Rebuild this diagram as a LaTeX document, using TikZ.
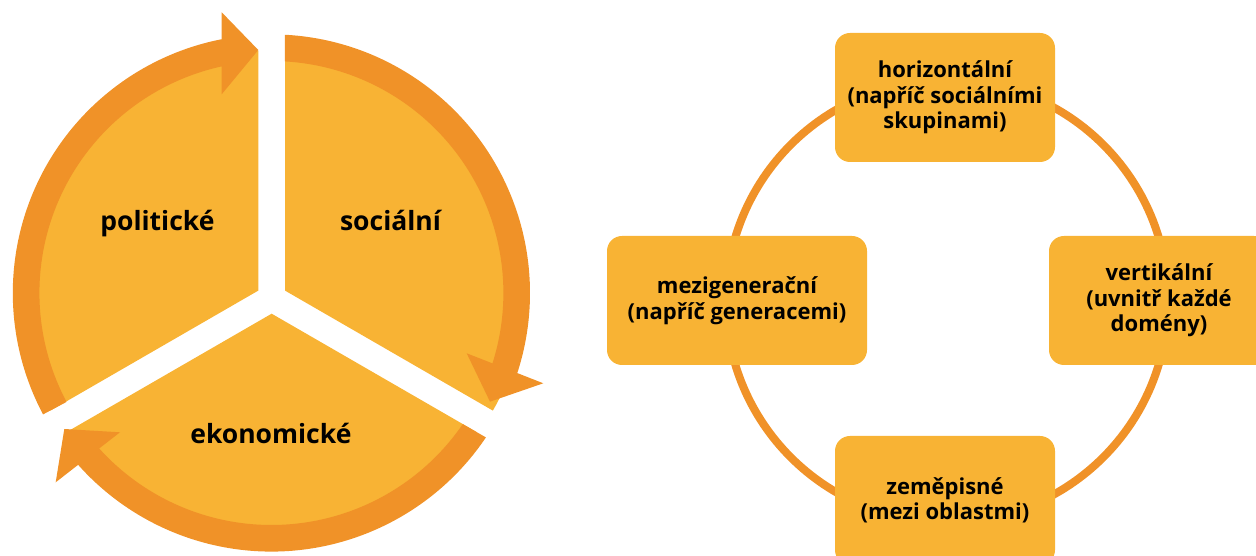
\documentclass[tikz,border=0pt]{standalone}
\usepackage{fontspec}
\setmainfont{Open Sans}
\definecolor{lightor}{HTML}{F8B334}
\definecolor{darkor}{HTML}{F09228}
\begin{document}
\begin{tikzpicture}[x=1pt,y=1pt,
  wedge/.style={fill=lightor},
  cyclearrow/.style={fill=darkor},
  seglabel/.style={font=\fontsize{26.5}{30}\selectfont\bfseries, anchor=base, inner sep=0pt},
  box/.style={fill=lightor, rounded corners=15pt, minimum height=129pt, inner sep=0pt, align=center,
    font=\fontsize{22}{25.5}\selectfont\bfseries},
  ring/.style={draw=darkor, line width=8pt}]
\useasboundingbox (0,0) rectangle (1256,556);
\clip (0,0) rectangle (1256,556);
% ---------- left: segmented cycle ----------
\begin{scope}[shift={(271.4,263)}]
  % pie wedges
  \fill[wedge] (-13.1,2.4) -- ++(90:240) arc[start angle=90,end angle=210,radius=240] -- cycle;
  \fill[wedge] (13.6,2.4) -- ++(-30:240) arc[start angle=-30,end angle=90,radius=240] -- cycle;
  \fill[wedge] (0.25,-20.7) -- ++(210:236) arc[start angle=210,end angle=330,radius=236] -- cycle;
  % circular arrows
  \fill[cyclearrow] (208:258.6) arc[start angle=208,end angle=101.08,radius=258.6]
     -- (-49.7,280.7) -- (-13.1,243) -- (-49.7,198.7)
     -- (102.37:232) arc[start angle=102.37,end angle=208,radius=232] -- cycle;
  \fill[cyclearrow] (86.99:258.6) arc[start angle=86.99,end angle=-18.04,radius=258.6]
     -- (271.9,-90.3) -- (218.6,-108.7) -- (195.3,-60.3)
     -- (-17.66:232) arc[start angle=-17.66,end angle=86.64,radius=232] -- cycle;
  \fill[cyclearrow] (-33.95:258.6) arc[start angle=-33.95,end angle=-138.36,radius=258.6]
     -- (-215.7,-189.3) -- (-207.1,-136) -- (-151.4,-139.3)
     -- (-137.92:232) arc[start angle=-137.92,end angle=-34.41,radius=232] -- cycle;
\end{scope}
\node[seglabel] (pol) at (157.4,325) {politické};
\node[seglabel] (soc) at (390.5,325) {sociální};
\node[seglabel] (eko) at (270.9,112) {ekonomické};
% ---------- right: circle of dimensions ----------
\coordinate (cc) at (947,255);
\draw[ring] (cc) circle[radius=221];
\node[box, minimum width=220pt] (hor) at (945,458.5) {horizontální\\(napříč sociálními\\skupinami)};
\node[box, minimum width=260pt] (mez) at (737,255.5) {mezigenerační\\(napříč generacemi)};
\node[box, minimum width=220pt] (ver) at (1159,255.5) {vertikální\\(uvnitř každé\\domény)};
\node[box, minimum width=220pt] (zem) at (945,55.5) {zeměpisné\\(mezi oblastmi)};
\end{tikzpicture}
\end{document}
